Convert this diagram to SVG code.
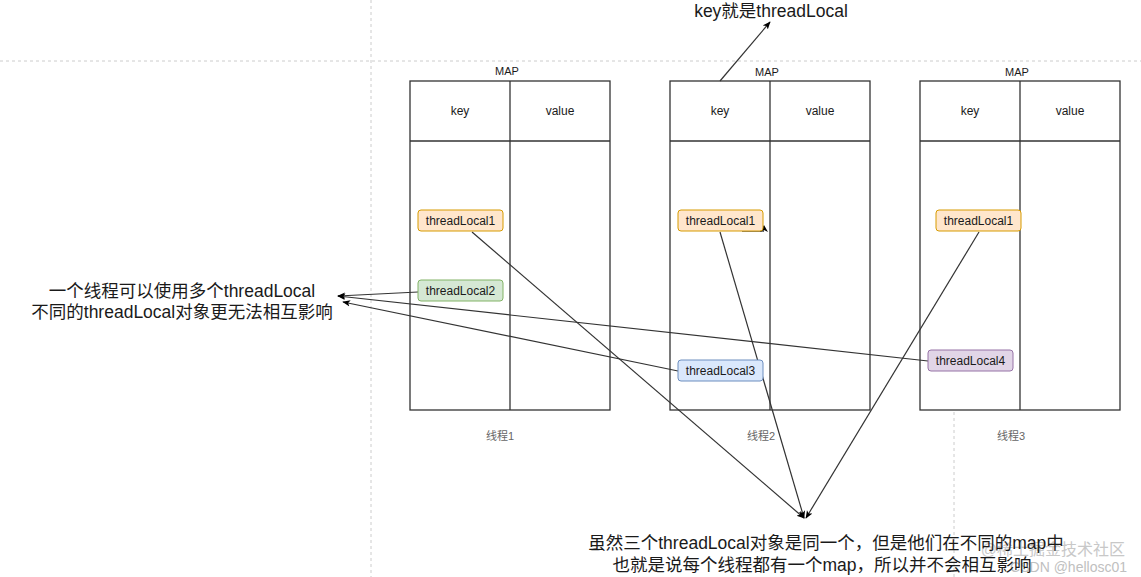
<svg xmlns="http://www.w3.org/2000/svg" width="1141" height="577" viewBox="0 0 1141 577">
<style>
text{font-family:"Liberation Sans",Arial,"Noto Sans CJK SC",sans-serif;fill:#1a1a1a}
.box{fill:#fff;stroke:#333;stroke-width:1.3}
.ln{stroke:#333;stroke-width:1.3;fill:none}
.sm{font-size:12px;text-anchor:middle}
.cap{font-size:11px;text-anchor:middle;fill:#666}
.big{font-size:17.5px;text-anchor:middle}
.guide{stroke:#ccc;stroke-width:1;stroke-dasharray:3 3;fill:none}
.conn{stroke:#333;stroke-width:1.2;fill:none;marker-end:url(#arr)}
.org{fill:#ffe6cc;stroke:#d79b00}
.grn{fill:#d5e8d4;stroke:#82b366}
.blu{fill:#dae8fc;stroke:#6c8ebf}
.pur{fill:#e1d5e7;stroke:#9673a6}
</style>
<defs>
<marker id="arr" viewBox="0 0 10 10" refX="9" refY="5" markerWidth="8" markerHeight="8" orient="auto" markerUnits="userSpaceOnUse">
<path d="M0,1 L10,5 L0,9 L2.5,5 Z" fill="#000"/>
</marker>
</defs>
<rect width="1141" height="577" fill="#fff"/>
<g id="guides">
<line class="guide" x1="0" y1="61" x2="1141" y2="61"/>
<line class="guide" x1="371" y1="0" x2="371" y2="577"/>
<line class="guide" x1="954" y1="412" x2="954" y2="577"/>
</g>
<g id="map1">
<text class="sm" x="507" y="75" style="font-size:11px">MAP</text>
<rect class="box" x="410" y="81" width="200" height="329"/>
<line class="ln" x1="410" y1="141" x2="610" y2="141"/>
<line class="ln" x1="510" y1="81" x2="510" y2="410"/>
<text class="sm" x="460" y="115">key</text>
<text class="sm" x="560" y="115">value</text>
<text class="cap" x="500" y="440">线程1</text>
</g>
<g id="map2">
<text class="sm" x="767" y="76" style="font-size:11px">MAP</text>
<rect class="box" x="670" y="81" width="200" height="329"/>
<line class="ln" x1="670" y1="141" x2="870" y2="141"/>
<line class="ln" x1="770" y1="81" x2="770" y2="410"/>
<text class="sm" x="720" y="115">key</text>
<text class="sm" x="820" y="115">value</text>
<text class="cap" x="761" y="440">线程2</text>
</g>
<g id="map3">
<text class="sm" x="1017" y="76" style="font-size:11px">MAP</text>
<rect class="box" x="920" y="81" width="200" height="329"/>
<line class="ln" x1="920" y1="141" x2="1120" y2="141"/>
<line class="ln" x1="1020" y1="81" x2="1020" y2="410"/>
<text class="sm" x="970" y="115">key</text>
<text class="sm" x="1070" y="115">value</text>
<text class="cap" x="1011" y="440">线程3</text>
</g>
<g id="connectors">
<line class="conn" x1="720" y1="81" x2="770" y2="22"/>
<line class="conn" x1="472" y1="232" x2="804" y2="518"/>
<line class="conn" x1="720" y1="232" x2="804" y2="518"/>
<line class="conn" x1="979" y1="232" x2="806" y2="518"/>
<line class="conn" x1="418" y1="292" x2="338" y2="296"/>
<line class="conn" x1="928" y1="361" x2="338" y2="296"/>
<line class="conn" x1="678" y1="371" x2="343" y2="302"/>
<path class="ln" d="M742,231 H764"/>
<path d="M760,232 L764,225 L768,232 L764,230 Z" fill="#000"/>
</g>
<g id="tl1a"><rect class="org" x="418" y="210" width="85" height="21" rx="3"/><text class="sm" x="460.5" y="225">threadLocal1</text></g>
<g id="tl2"><rect class="grn" x="418" y="280" width="85" height="21" rx="3"/><text class="sm" x="460.5" y="295">threadLocal2</text></g>
<g id="tl1b"><rect class="org" x="678" y="210" width="85" height="21" rx="3"/><text class="sm" x="720.5" y="225">threadLocal1</text></g>
<g id="tl3"><rect class="blu" x="678" y="360" width="85" height="21" rx="3"/><text class="sm" x="720.5" y="375">threadLocal3</text></g>
<g id="tl1c"><rect class="org" x="936" y="210" width="85" height="21" rx="3"/><text class="sm" x="978.5" y="225">threadLocal1</text></g>
<g id="tl4"><rect class="pur" x="928" y="350" width="85" height="21" rx="3"/><text class="sm" x="970.5" y="365">threadLocal4</text></g>
<g id="note-key"><text class="big" x="771" y="17">key就是threadLocal</text></g>
<g id="note-left">
<text class="big" x="182" y="297">一个线程可以使用多个threadLocal</text>
<text class="big" x="182" y="318">不同的threadLocal对象更无法相互影响</text>
</g>
<g id="watermark">
<text x="1125" y="555" style="font-size:16px;text-anchor:end;fill:#c8c8c8">@稀土掘金技术社区</text>
<text x="1127" y="572" style="font-size:14px;text-anchor:end;fill:#c0c0c0">CSDN @hellosc01</text>
</g>
<g id="note-bottom">
<text class="big" x="826" y="549">虽然三个threadLocal对象是同一个，但是他们在不同的map中</text>
<text class="big" x="822" y="571">也就是说每个线程都有一个map，所以并不会相互影响</text>
</g>
</svg>
